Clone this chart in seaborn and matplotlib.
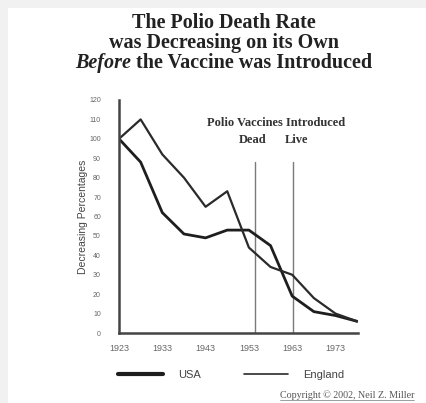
import matplotlib
matplotlib.use("Agg")
import matplotlib.pyplot as plt
import seaborn as sns
import pandas as pd
from matplotlib.lines import Line2D

# data
years = [1923, 1928, 1933, 1938, 1943, 1948, 1953, 1958, 1963, 1968, 1973, 1978]
usa = [100, 88, 62, 51, 49, 53, 53, 45, 19, 11, 9, 6]
england = [100, 110, 92, 80, 65, 73, 44, 34, 30, 18, 10, 6]
vaccine_years = [1954.5, 1963.2]
vaccine_names = ["Dead", "Live"]
x_ticks = [1923, 1933, 1943, 1953, 1963, 1973]
y_ticks = list(range(0, 121, 10))

df = pd.DataFrame({"year": years, "USA": usa, "England": england})

sns.set_style("white")
plt.rcParams["font.family"] = ["Liberation Sans", "DejaVu Sans"]

fig = plt.figure(figsize=(4.26, 4.03), dpi=100)
fig.patch.set_facecolor("#f1f1f1")
fig.patches.append(plt.Rectangle((8 / 426, 0), 1, 1 - 8 / 403, transform=fig.transFigure,
                                 facecolor="white", edgecolor="none", zorder=-5))

ax = fig.add_axes([119 / 426, 1 - 333 / 403, 239 / 426, 233 / 403])
ax.set_facecolor("none")

sns.lineplot(data=df, x="year", y="USA", ax=ax, color="#1e1e1e", linewidth=2.0, label="USA")
sns.lineplot(data=df, x="year", y="England", ax=ax, color="#2a2a2a", linewidth=1.6, label="England")

for yr in vaccine_years:
    ax.plot([yr, yr], [0, 88], color="#7a7a7a", linewidth=1.0, zorder=1)

ax.text(1959.3, 108, "Polio Vaccines Introduced", family="Liberation Serif", weight="bold",
        fontsize=9, ha="center", va="center", color="#333333")
for yr, name in zip([1953.8, 1964.0], vaccine_names):
    ax.text(yr, 99.5, name, family="Liberation Serif", weight="bold",
            fontsize=9, ha="center", va="center", color="#333333")

ax.set_xlim(1923, 1978.2)
ax.set_ylim(0, 120)
ax.set_xticks(x_ticks)
ax.set_xticks(range(1928, 1978, 10), minor=True)
ax.set_yticks(y_ticks)
ax.tick_params(axis="y", labelsize=5, labelcolor="#666666", length=0, pad=13)
ax.tick_params(axis="x", which="both", direction="in", length=3, color="#bbbbbb",
               labelsize=6.5, labelcolor="#666666", pad=8)
ax.set_xlabel("")
ax.set_ylabel("Decreasing Percentages", fontsize=7.5, color="#444444", labelpad=1)

for side in ["top", "right"]:
    ax.spines[side].set_visible(False)
for side in ["left", "bottom"]:
    ax.spines[side].set_color("#444444")
    ax.spines[side].set_linewidth(1.8)

leg = ax.legend(loc="center", bbox_to_anchor=(231.5 / 426, 1 - 375 / 403),
                bbox_transform=fig.transFigure, ncol=2, frameon=False, fontsize=8,
                handlelength=4.0, handletextpad=1.35, columnspacing=3.9, labelcolor="#444444")
leg.get_lines()[0].set_linewidth(3.0)
leg.get_lines()[1].set_linewidth(1.2)

# title, with italic "Before" on the last line
title_kw = dict(family="Liberation Serif", weight="bold", fontsize=14.5, color="#222222",
                ha="center", va="center")
fig.text(0.525, 1 - 23 / 403, "The Polio Death Rate", **title_kw)
fig.text(0.525, 1 - 43 / 403, "was Decreasing on its Own", **title_kw)

renderer = fig.canvas.get_renderer()
t1 = fig.text(0, 1 - 63 / 403, "Before", family="Liberation Serif", style="italic",
              weight="bold", fontsize=14.5, color="#222222", ha="left", va="center")
t2 = fig.text(0, 1 - 63 / 403, "the Vaccine was Introduced", family="Liberation Serif",
              weight="bold", fontsize=14.5, color="#222222", ha="left", va="center")
gap = 4 / 426
w1 = t1.get_window_extent(renderer).width / fig.bbox.width
w2 = t2.get_window_extent(renderer).width / fig.bbox.width
x0 = 0.525 - (w1 + gap + w2) / 2
t1.set_x(x0)
t2.set_x(x0 + w1 + gap)

cp = fig.text(414 / 426, 1 - 395 / 403, "Copyright \u00a9 2002, Neil Z. Miller",
              family="Liberation Serif", fontsize=7.2, color="#555555", ha="right", va="center")
bb = cp.get_window_extent(renderer).transformed(fig.transFigure.inverted())
fig.add_artist(Line2D([bb.x0, bb.x1], [bb.y0, bb.y0], transform=fig.transFigure,
                      color="#777777", linewidth=0.5))

fig.savefig("out.png", dpi=100, facecolor=fig.get_facecolor())
